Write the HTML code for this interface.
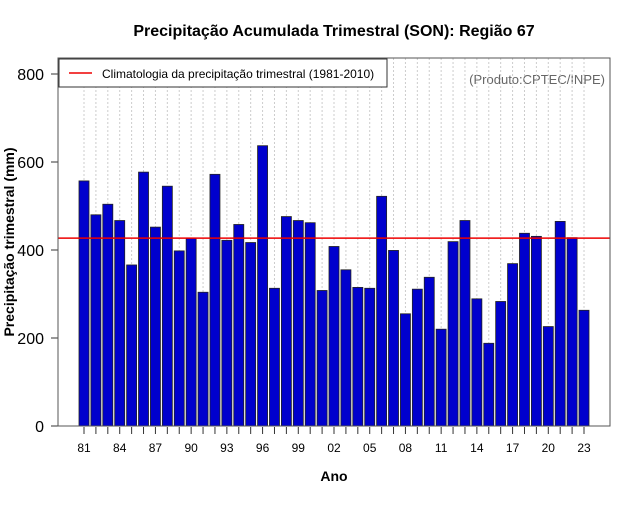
<!DOCTYPE html>
<html><head><meta charset="utf-8"><style>
body{margin:0;background:#fff;font-family:"Liberation Sans",sans-serif}
svg text{font-family:"Liberation Sans",sans-serif}
</style></head><body>
<svg id="chart" width="640" height="500" viewBox="0 0 640 500" xmlns="http://www.w3.org/2000/svg">
<text x="334" y="36" text-anchor="middle" font-size="16" font-weight="bold">Precipitação Acumulada Trimestral (SON): Região 67</text>
<text transform="translate(14,242) rotate(-90)" text-anchor="middle" font-size="14" font-weight="bold">Precipitação trimestral (mm)</text>
<text x="334" y="481" text-anchor="middle" font-size="14" font-weight="bold">Ano</text>
<text x="605" y="84" text-anchor="end" font-size="13" fill="#666">(Produto:CPTEC/INPE)</text>
<g id="grid"></g><g id="bars"></g><g id="axes"></g>
<rect x="58" y="58" width="552" height="368" fill="none" stroke="#555" stroke-width="1"/>
<g>
<rect x="59" y="59" width="328" height="28" fill="#fff" stroke="#333"/>
<line x1="69" y1="73" x2="92" y2="73" stroke="#e00" stroke-width="1.5"/>
<text x="102" y="78" font-size="12">Climatologia da precipitação trimestral (1981-2010)</text>
</g>
</svg>
<script>
const years=["81","82","83","84","85","86","87","88","89","90","91","92","93","94","95","96","97","98","99","00","01","02","03","04","05","06","07","08","09","10","11","12","13","14","15","16","17","18","19","20","21","22","23"];
const values=[557,480,504,467,366,577,452,545,398,427,304,572,422,458,417,637,313,476,467,462,308,408,355,315,313,522,399,255,311,338,220,419,467,289,188,283,369,438,431,226,465,428,263];
const climatology=[427];
const yTicks=[0,200,400,600,800];
const NS="http://www.w3.org/2000/svg";
const y0=426,pxPer=0.44;
function yScale(v){return y0-v*pxPer;}
function xScale(i){return 84+i*11.905;}
function mk(t,a,p){const e=document.createElementNS(NS,t);for(const k in a)e.setAttribute(k,a[k]);p.appendChild(e);return e;}
const g=document.getElementById('grid'),b=document.getElementById('bars'),ax=document.getElementById('axes');
years.forEach((yr,i)=>{
 const x=xScale(i);
 const gl=mk('line',{x1:x,y1:58,x2:x,y2:y0,stroke:'#ccc','stroke-dasharray':'2,2'},g);
 
 
 const r=mk('rect',{x:x-5,y:yScale(values[i]),width:10,height:values[i]*pxPer,fill:'#0000cd',stroke:'#222','stroke-width':0.8},b);
 
 
 const tk=mk('line',{x1:x,y1:y0+1,x2:x,y2:y0+8,stroke:'#333'},ax);
 
 
 if(i%3===0){const t=mk('text',{x:x,y:452,'text-anchor':'middle','font-size':12},ax);t.textContent=yr;
 
 }
});
mk('line',{x1:58,y1:y0,x2:610,y2:y0,stroke:'#000'},ax);
yTicks.forEach(v=>{
 const y=yScale(v);
 const tk=mk('line',{x1:51,y1:y,x2:58,y2:y,stroke:'#333'},ax);
 
 
 const t=mk('text',{x:44,y:y+6,'text-anchor':'end','font-size':16},ax);t.textContent=v;
 
 
});
const cl=mk('line',{x1:58,y1:yScale(climatology[0]),x2:610,y2:yScale(climatology[0]),stroke:'#e00','stroke-width':1.5},ax);


</script>
</body></html>
